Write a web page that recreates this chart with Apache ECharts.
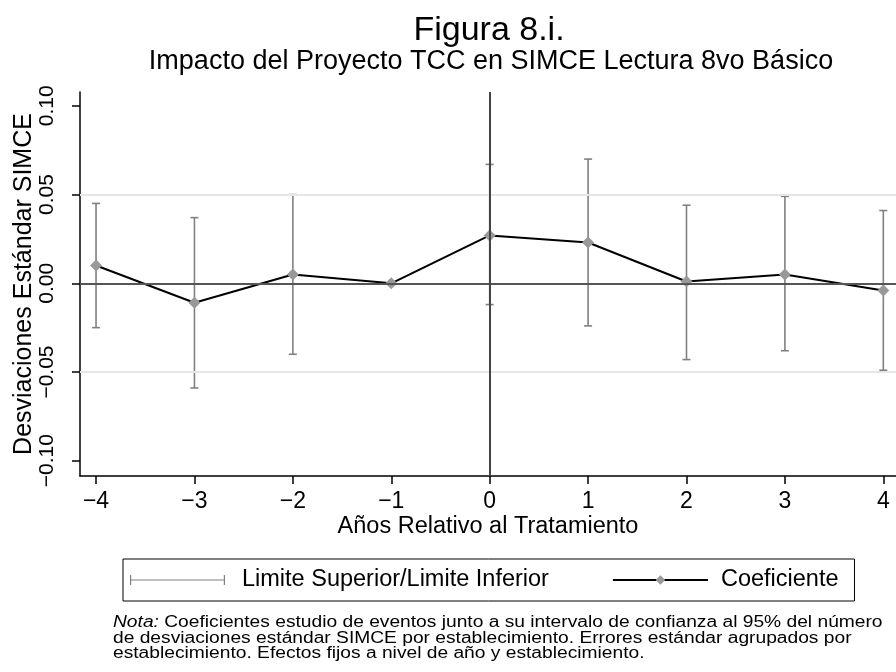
<!DOCTYPE html>
<html>
<head>
<meta charset="utf-8">
<script src="https://cdn.jsdelivr.net/npm/echarts@6/dist/echarts.min.js"></script>
<style>
  html, body { margin: 0; padding: 0; background: #fff; }
  #chart { width: 896px; height: 672px; }
</style>
</head>
<body>
<div id="chart"></div>
<script>
// Event-study estimates: years relative to treatment
const years = [-4, -3, -2, -1, 0, 1, 2, 3, 4];
const coef = [0.010, -0.011, 0.005, 0.000, 0.027, 0.023, 0.001, 0.005, -0.004];
const upper = [0.045, 0.037, 0.050, null, 0.067, 0.070, 0.044, 0.049, 0.041];
const lower = [-0.025, -0.059, -0.040, null, -0.012, -0.024, -0.043, -0.038, -0.049];

const xTicks = [-4, -3, -2, -1, 0, 1, 2, 3, 4];
const yTicks = [-0.10, -0.05, 0.00, 0.05, 0.10];
const yGrid = [-0.05, 0.05];

const FONT = "'Liberation Sans', Helvetica, Arial, sans-serif";
const minus = s => s.replace('-', '\u2212');

const coefData = years.map((y, i) => [y, coef[i]]);
const ciData = [];
years.forEach((y, i) => {
  if (upper[i] !== null && lower[i] !== null) ciData.push([y, lower[i], upper[i]]);
});

const chart = echarts.init(document.getElementById('chart'), null, { renderer: 'canvas' });

const option = {
  backgroundColor: '#ffffff',
  animation: false,
  title: [
    {
      text: 'Figura 8.i.',
      left: 489, top: 14, textAlign: 'center', padding: 0,
      textStyle: { fontFamily: FONT, fontSize: 34, fontWeight: 'normal', color: '#000' }
    },
    {
      text: 'Impacto del Proyecto TCC en SIMCE Lectura 8vo Básico',
      left: 491, top: 48.5, textAlign: 'center', padding: 0,
      textStyle: { fontFamily: FONT, fontSize: 27, fontWeight: 'normal', color: '#000' }
    }
  ],
  grid: { left: 80, right: 0, top: 92, bottom: 196, containLabel: false, outerBoundsMode: 'none' },
  xAxis: {
    type: 'value',
    min: -4.163, max: 4.129,
    name: 'Años Relativo al Tratamiento',
    nameLocation: 'middle', nameGap: 39, nameMoveOverlap: false,
    nameTextStyle: { fontFamily: FONT, fontSize: 23.5, color: '#000' },
    axisLine: { show: true, onZero: false, lineStyle: { color: '#000', width: 1.5 } },
    axisTick: { show: true, length: 8, customValues: xTicks, lineStyle: { color: '#000', width: 1.5 } },
    axisLabel: {
      customValues: xTicks, margin: 14,
      fontFamily: FONT, fontSize: 23, color: '#000',
      formatter: v => minus(String(v))
    },
    splitLine: { show: false }
  },
  yAxis: {
    type: 'value',
    min: -0.1086, max: 0.1078,
    name: 'Desviaciones Estándar SIMCE',
    nameLocation: 'middle', nameGap: 43, nameMoveOverlap: false,
    nameTextStyle: { fontFamily: FONT, fontSize: 25, color: '#000' },
    axisLine: { show: true, onZero: false, lineStyle: { color: '#000', width: 1.5 } },
    axisTick: { show: true, length: 8, customValues: yTicks, lineStyle: { color: '#000', width: 1.5 } },
    axisLabel: {
      customValues: yTicks, rotate: 90, margin: 22,
      fontFamily: FONT, fontSize: 21, color: '#000',
      formatter: v => minus(v.toFixed(2))
    },
    splitLine: { show: false }
  },
  legend: {
    left: 123, top: 559,
    orient: 'horizontal',
    borderColor: '#000', borderWidth: 1,
    padding: [9, 16, 9, 7],
    itemGap: 63,
    itemWidth: 95, itemHeight: 12,
    textStyle: { fontFamily: FONT, fontSize: 23.5, color: '#000', padding: [0, 0, 0, 12] },
    data: [
      { name: 'Limite Superior/Limite Inferior',
        icon: 'path://M0,0h1.2v10h-1.2z M0,4.4h95v1.2h-95z M93.8,0h1.2v10h-1.2z' },
      { name: 'Coeficiente',
        textStyle: { fontFamily: FONT, fontSize: 23.5, color: '#000', padding: [0, 0, 0, 8] } }
    ]
  },
  series: [
    {
      // light reference grid at ±0.05 and the zero lines
      name: 'ref',
      type: 'line',
      data: [],
      silent: true,
      z: 1,
      markLine: {
        silent: true, symbol: 'none', animation: false,
        label: { show: false },
        data: [
          ...yGrid.map(v => ({ yAxis: v, lineStyle: { color: '#e6e6e6', width: 2, type: 'solid' } })),
          { yAxis: 0, lineStyle: { color: '#555', width: 2, type: 'solid' } },
          { xAxis: 0, lineStyle: { color: '#444', width: 2, type: 'solid' } }
        ]
      }
    },
    {
      name: 'Limite Superior/Limite Inferior',
      type: 'custom',
      z: 3,
      itemStyle: { color: '#808080' },
      encode: { x: 0, y: [1, 2] },
      data: ciData,
      renderItem: (params, api) => {
        const x = api.value(0);
        const lo = api.coord([x, api.value(1)]);
        const hi = api.coord([x, api.value(2)]);
        const cap = 4;
        const style = { stroke: '#808080', lineWidth: 1.6, fill: null };
        return {
          type: 'group',
          children: [
            { type: 'line', shape: { x1: lo[0], y1: lo[1], x2: hi[0], y2: hi[1] }, style },
            { type: 'line', shape: { x1: hi[0] - cap, y1: hi[1], x2: hi[0] + cap, y2: hi[1] }, style },
            { type: 'line', shape: { x1: lo[0] - cap, y1: lo[1], x2: lo[0] + cap, y2: lo[1] }, style }
          ]
        };
      }
    },
    {
      name: 'Coeficiente',
      type: 'line',
      z: 4,
      data: coefData,
      symbol: 'diamond',
      symbolSize: 12,
      showAllSymbol: true,
      lineStyle: { color: '#000', width: 2 },
      itemStyle: { color: '#999999', borderWidth: 0 }
    }
  ],
  graphic: [
    {
      type: 'text',
      x: 113, y: 615,
      scaleX: 1.2,
      style: {
        text: '{i|Nota:} Coeficientes estudio de eventos junto a su intervalo de confianza al 95% del número\nde desviaciones estándar SIMCE por establecimiento. Errores estándar agrupados por\nestablecimiento. Efectos fijos a nivel de año y establecimiento.',
        font: '16px ' + FONT,
        fill: '#000',
        lineHeight: 15.5,
        rich: {
          i: { fontStyle: 'italic', fontFamily: FONT, fontSize: 16, fill: '#000', lineHeight: 15.5 }
        }
      }
    }
  ]
};

chart.setOption(option);
</script>
</body>
</html>
